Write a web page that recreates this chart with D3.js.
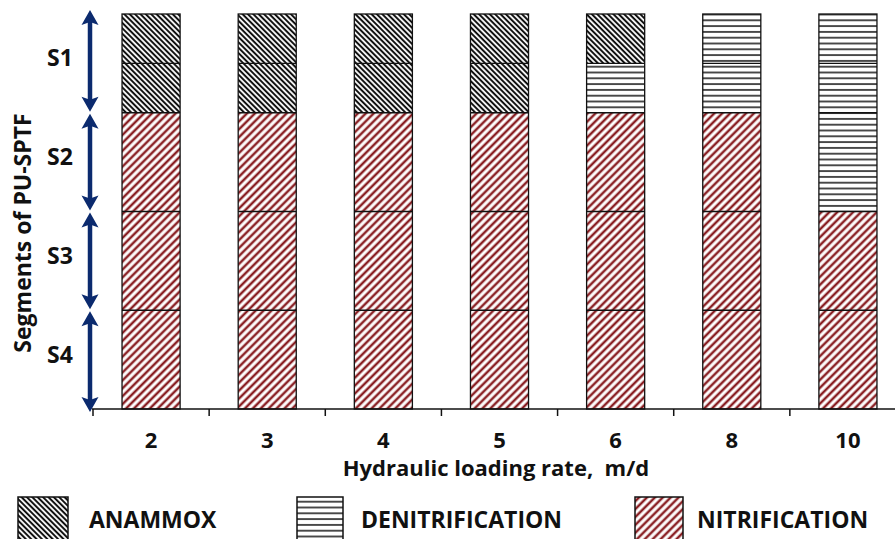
<!DOCTYPE html>
<meta charset="utf-8">
<style>
  body { margin: 0; background: #fff; }
  text { font-family: "Open Sans", sans-serif; font-weight: bold; fill: #111; white-space: pre; }
</style>
<svg width="895" height="539"></svg>
<script src="https://cdn.jsdelivr.net/npm/d3@7"></script>
<script>
// hydraulic loading rates (m/d)
var rates = ["2", "3", "4", "5", "6", "8", "10"];
var segments = ["S1", "S2", "S3", "S4"];
var processes = ["ANAMMOX", "DENITRIFICATION", "NITRIFICATION"];
// depth taken by each process, in segments counted from the top
var anammox = [1, 1, 1, 1, 0.5, 0, 0];
var denitrification = [0, 0, 0, 0, 0.5, 1, 2];
var nitrification = [3, 3, 3, 3, 3, 3, 2];
// borders drawn inside every column (half of S1, then the segment borders)
var zoneBorders = [0.5, 1, 2, 3];

var svg = d3.select("svg");
var navy = "#0b2a6e";

var x = d3.scaleBand().domain(rates).range([93, 906]).paddingInner(0.5).paddingOuter(0.25);
var y = d3.scaleLinear().domain([0, segments.length]).range([14, 409]);

// patterns
var defs = svg.append("defs");
function stripes(id, size, angle, color, width, horizontal) {
  var p = defs.append("pattern").attr("id", id)
      .attr("patternUnits", "userSpaceOnUse")
      .attr("width", size).attr("height", size);
  if (angle) p.attr("patternTransform", "rotate(" + angle + ")");
  p.append("rect").attr("width", size).attr("height", size).attr("fill", "#fff");
  if (horizontal) {
    p.append("line").attr("x1", 0).attr("x2", size).attr("y1", size / 2).attr("y2", size / 2)
      .attr("stroke", color).attr("stroke-width", width);
  } else {
    p.append("line").attr("x1", size / 2).attr("x2", size / 2).attr("y1", 0).attr("y2", size)
      .attr("stroke", color).attr("stroke-width", width);
  }
}
stripes("p-ANAMMOX", 3.8, -45, "#111", 2, false);
stripes("p-DENITRIFICATION", 5.8, 0, "#222", 1.6, true);
stripes("p-NITRIFICATION", 5.6, 45, "#8a2024", 2.5, false);

// stacked columns
var rows = rates.map(function(r, i) {
  return { rate: r, ANAMMOX: anammox[i], DENITRIFICATION: denitrification[i], NITRIFICATION: nitrification[i] };
});
var stack = d3.stack().keys(processes)(rows);

var bars = svg.append("g");
stack.forEach(function(layer) {
  bars.selectAll(null)
    .data(layer.filter(function(d) { return d[1] > d[0]; }))
    .enter().append("rect")
      .attr("x", function(d) { return x(d.data.rate); })
      .attr("y", function(d) { return y(d[0]); })
      .attr("width", x.bandwidth())
      .attr("height", function(d) { return y(d[1]) - y(d[0]); })
      .attr("fill", "url(#p-" + layer.key + ")");
});

// zone borders and outlines
rates.forEach(function(r) {
  zoneBorders.forEach(function(b) {
    bars.append("line")
      .attr("x1", x(r)).attr("x2", x(r) + x.bandwidth())
      .attr("y1", y(b)).attr("y2", y(b))
      .attr("stroke", "#111").attr("stroke-width", 1.3);
  });
  bars.append("rect")
    .attr("x", x(r)).attr("y", y(0))
    .attr("width", x.bandwidth()).attr("height", y(segments.length) - y(0))
    .attr("fill", "none").attr("stroke", "#111").attr("stroke-width", 1.3);
});

// x axis
var xg = svg.append("g").attr("transform", "translate(0," + y(segments.length) + ")");
xg.call(d3.axisBottom(x).tickSize(0).tickPadding(23));
xg.select(".domain").remove();
xg.selectAll("text").attr("font-family", null).style("font-size", "22px").attr("fill", "#111");
xg.append("line").attr("x1", 92).attr("x2", 895).attr("stroke", "#111").attr("stroke-width", 1.5);
xg.selectAll(".btick")
  .data(rates)
  .enter().append("line")
    .attr("x1", function(r) { return x(r) - (x.step() - x.bandwidth()) / 2; })
    .attr("x2", function(r) { return x(r) - (x.step() - x.bandwidth()) / 2; })
    .attr("y1", 0).attr("y2", 7)
    .attr("stroke", "#111").attr("stroke-width", 1.5);

svg.append("text")
  .attr("x", 496).attr("y", 476)
  .attr("text-anchor", "middle")
  .style("font-size", "22px")
  .text("Hydraulic loading rate,  m/d");

// y axis: double arrows for each segment
function arrowHead(tipY, dir) {
  var w = 8.5, l = 15, n = 3;
  return "M90," + tipY +
    "L" + (90 - w) + "," + (tipY + dir * l) +
    "L90," + (tipY + dir * (l - n)) +
    "L" + (90 + w) + "," + (tipY + dir * l) + "Z";
}
var ya = svg.append("g");
segments.forEach(function(s, i) {
  var top = y(i) + (i === 0 ? -4 : 1), bot = y(i + 1) + (i === segments.length - 1 ? 3 : -1);
  ya.append("line").attr("x1", 90).attr("x2", 90).attr("y1", top + 8).attr("y2", bot - 8)
    .attr("stroke", navy).attr("stroke-width", 4.5);
  ya.append("path").attr("d", arrowHead(top, 1)).attr("fill", navy);
  ya.append("path").attr("d", arrowHead(bot, -1)).attr("fill", navy);
  ya.append("text")
    .attr("x", 60).attr("y", (y(i) + y(i + 1)) / 2 - 5)
    .attr("dy", "0.35em")
    .attr("text-anchor", "middle")
    .style("font-size", "23px")
    .text(s);
});

svg.append("text")
  .attr("transform", "translate(31,233) rotate(-90)")
  .attr("text-anchor", "middle")
  .style("font-size", "23px")
  .text("Segments of PU-SPTF");

// legend
var legendX = [18, 297, 635];
var legendTextX = [89, 361, 697];
var legendW = [50, 46, 48];
var legend = svg.append("g");
processes.forEach(function(p, i) {
  legend.append("rect")
    .attr("x", legendX[i]).attr("y", 497)
    .attr("width", legendW[i]).attr("height", 50)
    .attr("fill", "url(#p-" + p + ")")
    .attr("stroke", "#111").attr("stroke-width", 1.5);
  legend.append("text")
    .attr("x", legendTextX[i]).attr("y", 528)
    .style("font-size", "23px")
    .text(p);
});
</script>
